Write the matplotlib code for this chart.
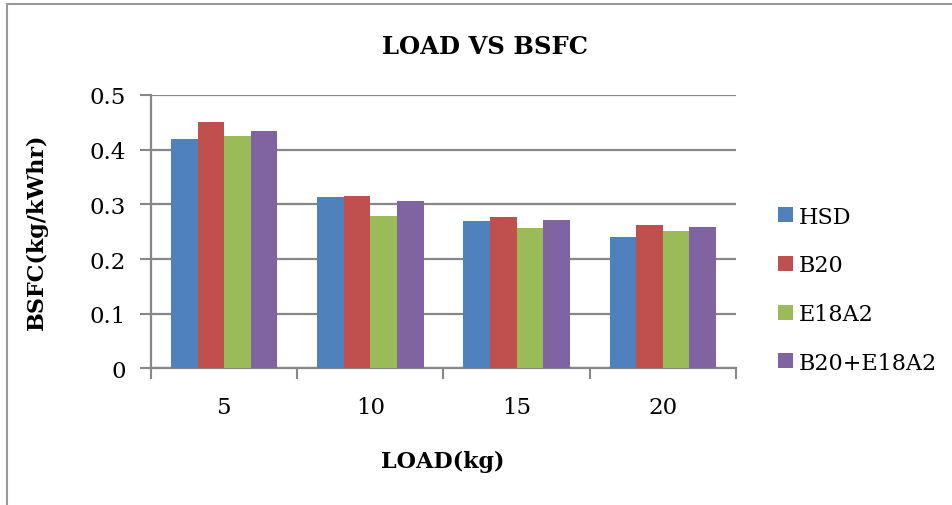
import matplotlib
matplotlib.use("Agg")
import matplotlib.pyplot as plt
from matplotlib.patches import Rectangle
import numpy as np

# --- data ---
loads = ["5", "10", "15", "20"]
series_names = ["HSD", "B20", "E18A2", "B20+E18A2"]
hsd = [0.420, 0.314, 0.270, 0.240]
b20 = [0.450, 0.315, 0.277, 0.263]
e18a2 = [0.425, 0.278, 0.256, 0.251]
b20_e18a2 = [0.434, 0.306, 0.272, 0.259]
colors = ["#4F81BD", "#C0504D", "#9BBB59", "#8064A2"]

grid_col = "#878787"
serif = ["DejaVu Serif"]

fig = plt.figure(figsize=(9.52, 5.06), dpi=100)
ax = fig.add_axes([0.1586, 0.2698, 0.7731 - 0.1586, 0.8103 - 0.2698])

# outer chart frame (runs off the right/bottom edge)
fig.patches.append(Rectangle((7 / 952, -0.05), 1.0, 1 - 5 / 506 + 0.05,
                             transform=fig.transFigure, fill=False,
                             edgecolor="#999999", linewidth=1.5))

x = np.arange(len(loads))
bw = 0.1818
for i, (vals, col) in enumerate(zip([hsd, b20, e18a2, b20_e18a2], colors)):
    ax.bar(x + (i - 1.5) * bw, vals, width=bw, color=col,
           label=series_names[i], zorder=3)

ax.set_xlim(-0.5, len(loads) - 0.5)
ax.set_ylim(0, 0.5)
ax.set_yticks([0, 0.1, 0.2, 0.3, 0.4, 0.5])
ax.set_yticklabels(["0", "0.1", "0.2", "0.3", "0.4", "0.5"],
                   family=serif, fontsize=16.5)
ax.yaxis.grid(True, color=grid_col, linewidth=1.6, zorder=0)
ax.set_axisbelow(True)

ax.set_xticks(x)
ax.set_xticklabels(loads, family=serif, fontsize=16.5)
ax.set_xticks(np.arange(-0.5, len(loads)), minor=True)
ax.tick_params(axis="x", which="major", length=0, pad=20)
ax.tick_params(axis="x", which="minor", length=8, width=1.5, color=grid_col)
ax.tick_params(axis="y", length=8, width=1.5, color=grid_col, pad=10)

for s in ["top", "right"]:
    ax.spines[s].set_visible(False)
for s in ["left", "bottom"]:
    ax.spines[s].set_color(grid_col)
    ax.spines[s].set_linewidth(1.6)

fig.text(485 / 952, 1 - 47 / 506, "LOAD VS BSFC", family=serif,
         fontsize=17.5, fontweight="bold", ha="center", va="center")
fig.text(443 / 952, 1 - 462 / 506, "LOAD(kg)", family=serif,
         fontsize=16, fontweight="bold", ha="center", va="center")
fig.text(37 / 952, 1 - 232 / 506, "BSFC(kg/kWhr)", family=serif,
         fontsize=16, fontweight="bold", ha="center", va="center",
         rotation=90)

leg = ax.legend(loc="center left", bbox_to_anchor=(1.056, 0.288),
                frameon=False, prop={"family": serif, "size": 16},
                handlelength=0.67, handleheight=0.67, handletextpad=0.3,
                labelspacing=1.2, borderaxespad=0)

fig.savefig("out.png", dpi=100)
